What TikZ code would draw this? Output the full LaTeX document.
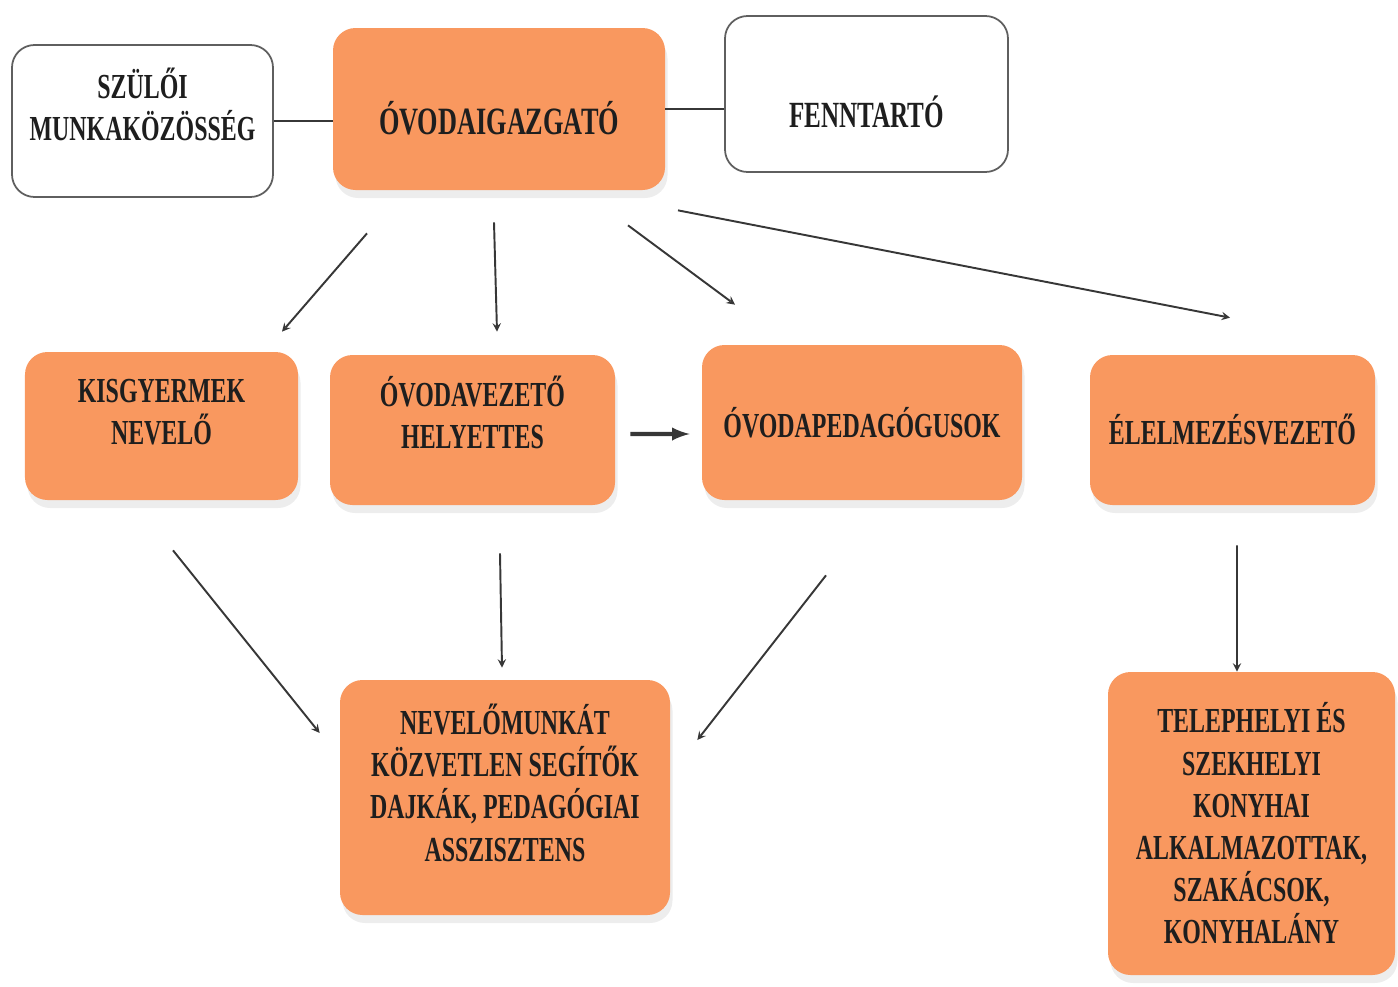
\documentclass[tikz,border=0pt]{standalone}
\usepackage{fontspec}
\setmainfont[FakeStretch=0.68]{Liberation Serif}
\usepackage{tikz}
\usetikzlibrary{arrows,shapes,positioning,shadows}
\usepackage{xcolor}
\definecolor{ovorange}{RGB}{249,152,95}
\definecolor{ovline}{RGB}{55,55,55}
\definecolor{ovframe}{RGB}{95,95,95}
\definecolor{ovtext}{RGB}{30,30,30}
\tikzstyle{arrow} = [line width=1.1pt,->,>=stealth,color=ovline]
\tikzstyle{unit} = [rectangle, rounded corners=0.45cm, align=center, fill=ovorange, text=ovtext, font=\bfseries\fontsize{20}{24}\selectfont, drop shadow={shadow xshift=0.05cm, shadow yshift=-0.16cm, fill=black!14}]

\begin{document}
\begin{tikzpicture}[
    partner/.style={rectangle, rounded corners=0.45cm, draw=ovframe, line width=1pt, fill=white, align=center, text=ovtext, font=\bfseries\fontsize{20}{24}\selectfont},
    link/.style={line width=1.2pt, ovline}]

\useasboundingbox (0,0) rectangle (27.96,-19.74);

% Top row
\node[partner, minimum width=5.22cm, minimum height=3.04cm, text depth=0.68cm] (parents) at (2.85,-2.42) {SZÜLŐI\\MUNKAKÖZÖSSÉG};
\node[unit, minimum width=6.64cm, minimum height=3.24cm, text height=1cm, text depth=0cm, font=\bfseries\fontsize{22}{26}\selectfont] (director) at (9.98,-2.18) {ÓVODAIGAZGATÓ};
\node[partner, minimum width=5.66cm, minimum height=3.12cm, text height=1.32cm, text depth=0cm, font=\bfseries\fontsize{21}{25}\selectfont] (owner) at (17.33,-1.88) {FENNTARTÓ};

% Middle row
\node[unit, minimum width=5.46cm, minimum height=2.96cm, text depth=0.56cm] (nurse) at (3.23,-8.52) {KISGYERMEK\\NEVELŐ};
\node[unit, minimum width=5.7cm, minimum height=3cm, text depth=0.72cm] (deputy) at (9.45,-8.6) {ÓVODAVEZETŐ\\HELYETTES};
\node[unit, minimum width=6.4cm, minimum height=3.1cm] (teachers) at (17.24,-8.45) {ÓVODAPEDAGÓGUSOK};
\node[unit, minimum width=5.7cm, minimum height=3cm] (catering) at (24.65,-8.6) {ÉLELMEZÉSVEZETŐ};

% Bottom row
\node[unit, minimum width=6.6cm, minimum height=4.7cm, text depth=0.6cm] (helpers) at (10.1,-15.95) {NEVELŐMUNKÁT\\KÖZVETLEN SEGÍTŐK\\DAJKÁK, PEDAGÓGIAI\\ASSZISZTENS};
\node[unit, minimum width=5.74cm, minimum height=6.06cm] (kitchen) at (25.03,-16.47) {TELEPHELYI ÉS\\SZEKHELYI\\KONYHAI\\ALKALMAZOTTAK,\\SZAKÁCSOK,\\KONYHALÁNY};

% Links
\draw[link] (parents.east) -- (parents.east -| director.west);
\draw[link] (director.east) -- (director.east -| owner.west);

% Arrows from the head
\draw[arrow] ([shift={(-2.64,-0.86)}]director.south) -- ([shift={(2.41,0.40)}]nurse.north);
\draw[arrow] ([shift={(-0.10,-0.64)}]director.south) -- ([shift={(0.49,0.46)}]deputy.north);
\draw[arrow] ([shift={(2.58,-0.70)}]director.south) -- ([shift={(-2.54,0.80)}]teachers.north);
\draw[arrow] ([shift={(3.58,-0.40)}]director.south) -- ([shift={(-0.05,0.74)}]catering.north);

\draw[arrow, line width=2.4pt, >=latex] ([shift={(0.30,-0.08)}]deputy.east) -- ([shift={(-0.24,-0.23)}]teachers.west);

% Arrows to the staff
\draw[arrow] ([shift={(0.23,-1.0)}]nurse.south) -- ([shift={(-0.4,1.29)}]helpers.west);
\draw[arrow] ([shift={(0.55,-0.96)}]deputy.south) -- ([shift={(-0.06,0.24)}]helpers.north);
\draw[arrow] ([shift={(-0.72,-1.5)}]teachers.south) -- ([shift={(0.54,1.15)}]helpers.east);
\draw[arrow] ([shift={(0.09,-0.8)}]catering.south) -- ([shift={(-0.29,0)}]kitchen.north);
\end{tikzpicture}
\end{document}
